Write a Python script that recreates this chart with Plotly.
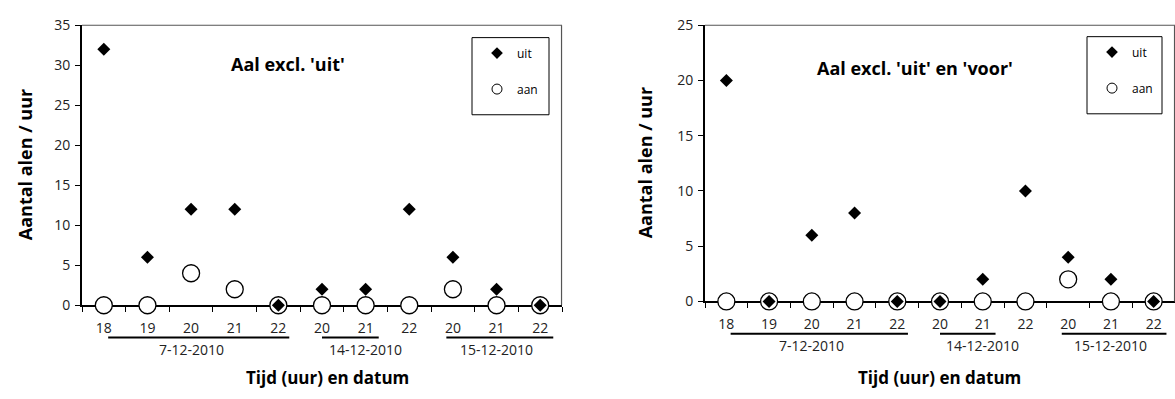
import plotly.graph_objects as go

# ---------------- data ----------------
hours = ["18", "19", "20", "21", "22", "20", "21", "22", "20", "21", "22"]
dates = ["7-12-2010", "14-12-2010", "15-12-2010"]
date_first_idx = [0, 5, 8]
date_last_idx = [4, 7, 10]

left_uit = [32, 6, 12, 12, 0, 2, 2, 12, 6, 2, 0]
left_aan = [0, 0, 4, 2, 0, 0, 0, 0, 2, 0, 0]
right_uit = [20, 0, 6, 8, 0, 0, 2, 10, 4, 2, 0]
right_aan = [0, 0, 0, 0, 0, 0, 0, 0, 2, 0, 0]

left_title = "Aal excl. 'uit'"
right_title = "Aal excl. 'uit' en 'voor'"
y_title = "Aantal alen / uur"
x_title = "Tijd (uur) en datum"

# ---------------- layout helpers ----------------
W, H = 1175, 399
FONT = "'Open Sans', sans-serif"


def px(x):
    return x / W


def py(y):
    return 1 - y / H


xpos = list(range(len(hours)))

fig = go.Figure()

panels = [
    dict(uit=left_uit, aan=left_aan, xa="x", ya="y", legend="legend", ymax=35,
         x0=82, x1=562, y0=16, y1=310, title=left_title, tx=288, ty=57,
         ytx=25, xtx=327, box=(472, 29, 549, 110)),
    dict(uit=right_uit, aan=right_aan, xa="x2", ya="y2", legend="legend2", ymax=25,
         x0=705, x1=1175, y0=16, y1=306, title=right_title, tx=915, ty=61,
         ytx=645, xtx=939, box=(1087, 28, 1162, 109)),
]

for i, p in enumerate(panels):
    # data traces
    fig.add_trace(go.Scatter(
        x=xpos, y=p["aan"], mode="markers", name="aan", xaxis=p["xa"], yaxis=p["ya"],
        showlegend=False, cliponaxis=False,
        marker=dict(symbol="circle", size=17, color="white", line=dict(color="black", width=1.3)),
    ))
    fig.add_trace(go.Scatter(
        x=xpos, y=p["uit"], mode="markers", name="uit", xaxis=p["xa"], yaxis=p["ya"],
        showlegend=False, cliponaxis=False,
        marker=dict(symbol="diamond", size=10, color="black", line=dict(width=0)),
    ))
    # legend entries (no data, legend symbol only)
    fig.add_trace(go.Scatter(
        x=[None], y=[None], mode="markers", name="uit", xaxis=p["xa"], yaxis=p["ya"],
        legend=p["legend"], legendgroup="uit", legendrank=1,
        marker=dict(symbol="diamond", size=9, color="black", line=dict(width=0)),
    ))
    fig.add_trace(go.Scatter(
        x=[None], y=[None], mode="markers", name="aan", xaxis=p["xa"], yaxis=p["ya"],
        legend=p["legend"], legendgroup="aan", legendrank=2,
        marker=dict(symbol="circle", size=10, color="white", line=dict(color="black", width=1)),
    ))

layout = dict(
    width=W, height=H, margin=dict(l=0, r=0, t=0, b=0),
    paper_bgcolor="white", plot_bgcolor="white",
    font=dict(family=FONT, size=13, color="black"),
    showlegend=True,
)

shapes = []
annotations = []

for i, p in enumerate(panels):
    sfx = "" if i == 0 else "2"
    xaxis = dict(
        domain=[px(p["x0"]), px(p["x1"])], anchor="y" + sfx,
        range=[-0.5, len(hours) - 0.5],
        tickvals=xpos, ticktext=hours, ticks="", showgrid=False, zeroline=False,
        showline=True, linecolor="black", linewidth=2, layer="below traces",
        tickfont=dict(size=14, color="#222"), ticklabelstandoff=9,
        minor=dict(tick0=0.5, dtick=1, ticks="outside", ticklen=5, tickcolor="black", tickwidth=1, showgrid=False),
        fixedrange=True,
    )
    yaxis = dict(
        domain=[py(p["y1"]), py(p["y0"])], anchor="x" + sfx,
        range=[0, p["ymax"]], dtick=5, ticks="outside", ticklen=5, tickcolor="black",
        showgrid=False, zeroline=False, showline=True, linecolor="black", linewidth=2,
        layer="below traces", tickfont=dict(size=14, color="#222"), ticklabelstandoff=2,
        fixedrange=True,
    )
    layout["xaxis" + sfx] = xaxis
    layout["yaxis" + sfx] = yaxis

    # plot-area border (top/right)
    shapes.append(dict(type="line", xref="paper", yref="paper",
                       x0=px(p["x0"]), x1=px(p["x1"]), y0=py(p["y0"]), y1=py(p["y0"]),
                       line=dict(color="#555", width=1.2)))
    shapes.append(dict(type="line", xref="paper", yref="paper",
                       x0=px(p["x1"]) - 0.0004, x1=px(p["x1"]) - 0.0004, y0=py(p["y0"]), y1=py(p["y1"]),
                       line=dict(color="#555", width=1.2)))

    # legend box
    bx0, by0, bx1, by1 = p["box"]
    shapes.append(dict(type="rect", xref="paper", yref="paper",
                       x0=px(bx0), x1=px(bx1), y0=py(by1), y1=py(by0),
                       line=dict(color="black", width=1), fillcolor="rgba(0,0,0,0)"))
    layout["legend" + sfx] = dict(
        x=px(bx0 + 5), y=py(by0 + 1), xanchor="left", yanchor="top",
        bgcolor="rgba(0,0,0,0)", borderwidth=0, font=dict(size=12, color="black"),
        itemsizing="trace", tracegroupgap=17, traceorder="grouped",
        itemwidth=30,
    )

    # date group lines and labels
    xr = "x" + sfx
    for d, a, b in zip(dates, date_first_idx, date_last_idx):
        lo = a - 0.4 if a > 0 else a + 0.1
        hi = b + 0.25
        if a == 5:
            lo = a
            hi = b - 0.7
        if a == 8:
            lo = a - 0.15
            hi = b + 0.3
        shapes.append(dict(type="line", xref=xr, yref="paper",
                           x0=lo, x1=hi, y0=py(p["y1"] + 34), y1=py(p["y1"] + 34),
                           line=dict(color="black", width=2)))
        annotations.append(dict(xref=xr, yref="paper", x=(a + b) / 2, y=py(p["y1"] + 46),
                                text=d, showarrow=False, font=dict(size=14, color="#222"),
                                xanchor="center", yanchor="middle"))

    # chart title (inside plot)
    annotations.append(dict(xref="paper", yref="paper", x=px(p["tx"]), y=py(p["ty"]),
                            text="<b>" + p["title"] + "</b>", showarrow=False,
                            font=dict(size=18, color="black"), xanchor="center", yanchor="middle"))
    # axis titles
    annotations.append(dict(xref="paper", yref="paper", x=px(p["ytx"]), y=py((p["y0"] + p["y1"]) / 2),
                            text="<b>" + y_title + "</b>", showarrow=False, textangle=-90,
                            font=dict(size=18, color="black"), xanchor="center", yanchor="middle"))
    annotations.append(dict(xref="paper", yref="paper", x=px(p["xtx"]), y=py(386),
                            text="<b>" + x_title + "</b>", showarrow=False,
                            font=dict(size=17, color="black"), xanchor="center", yanchor="middle"))

layout["shapes"] = shapes
layout["annotations"] = annotations
fig.update_layout(**layout)

fig.write_html("out.html")
